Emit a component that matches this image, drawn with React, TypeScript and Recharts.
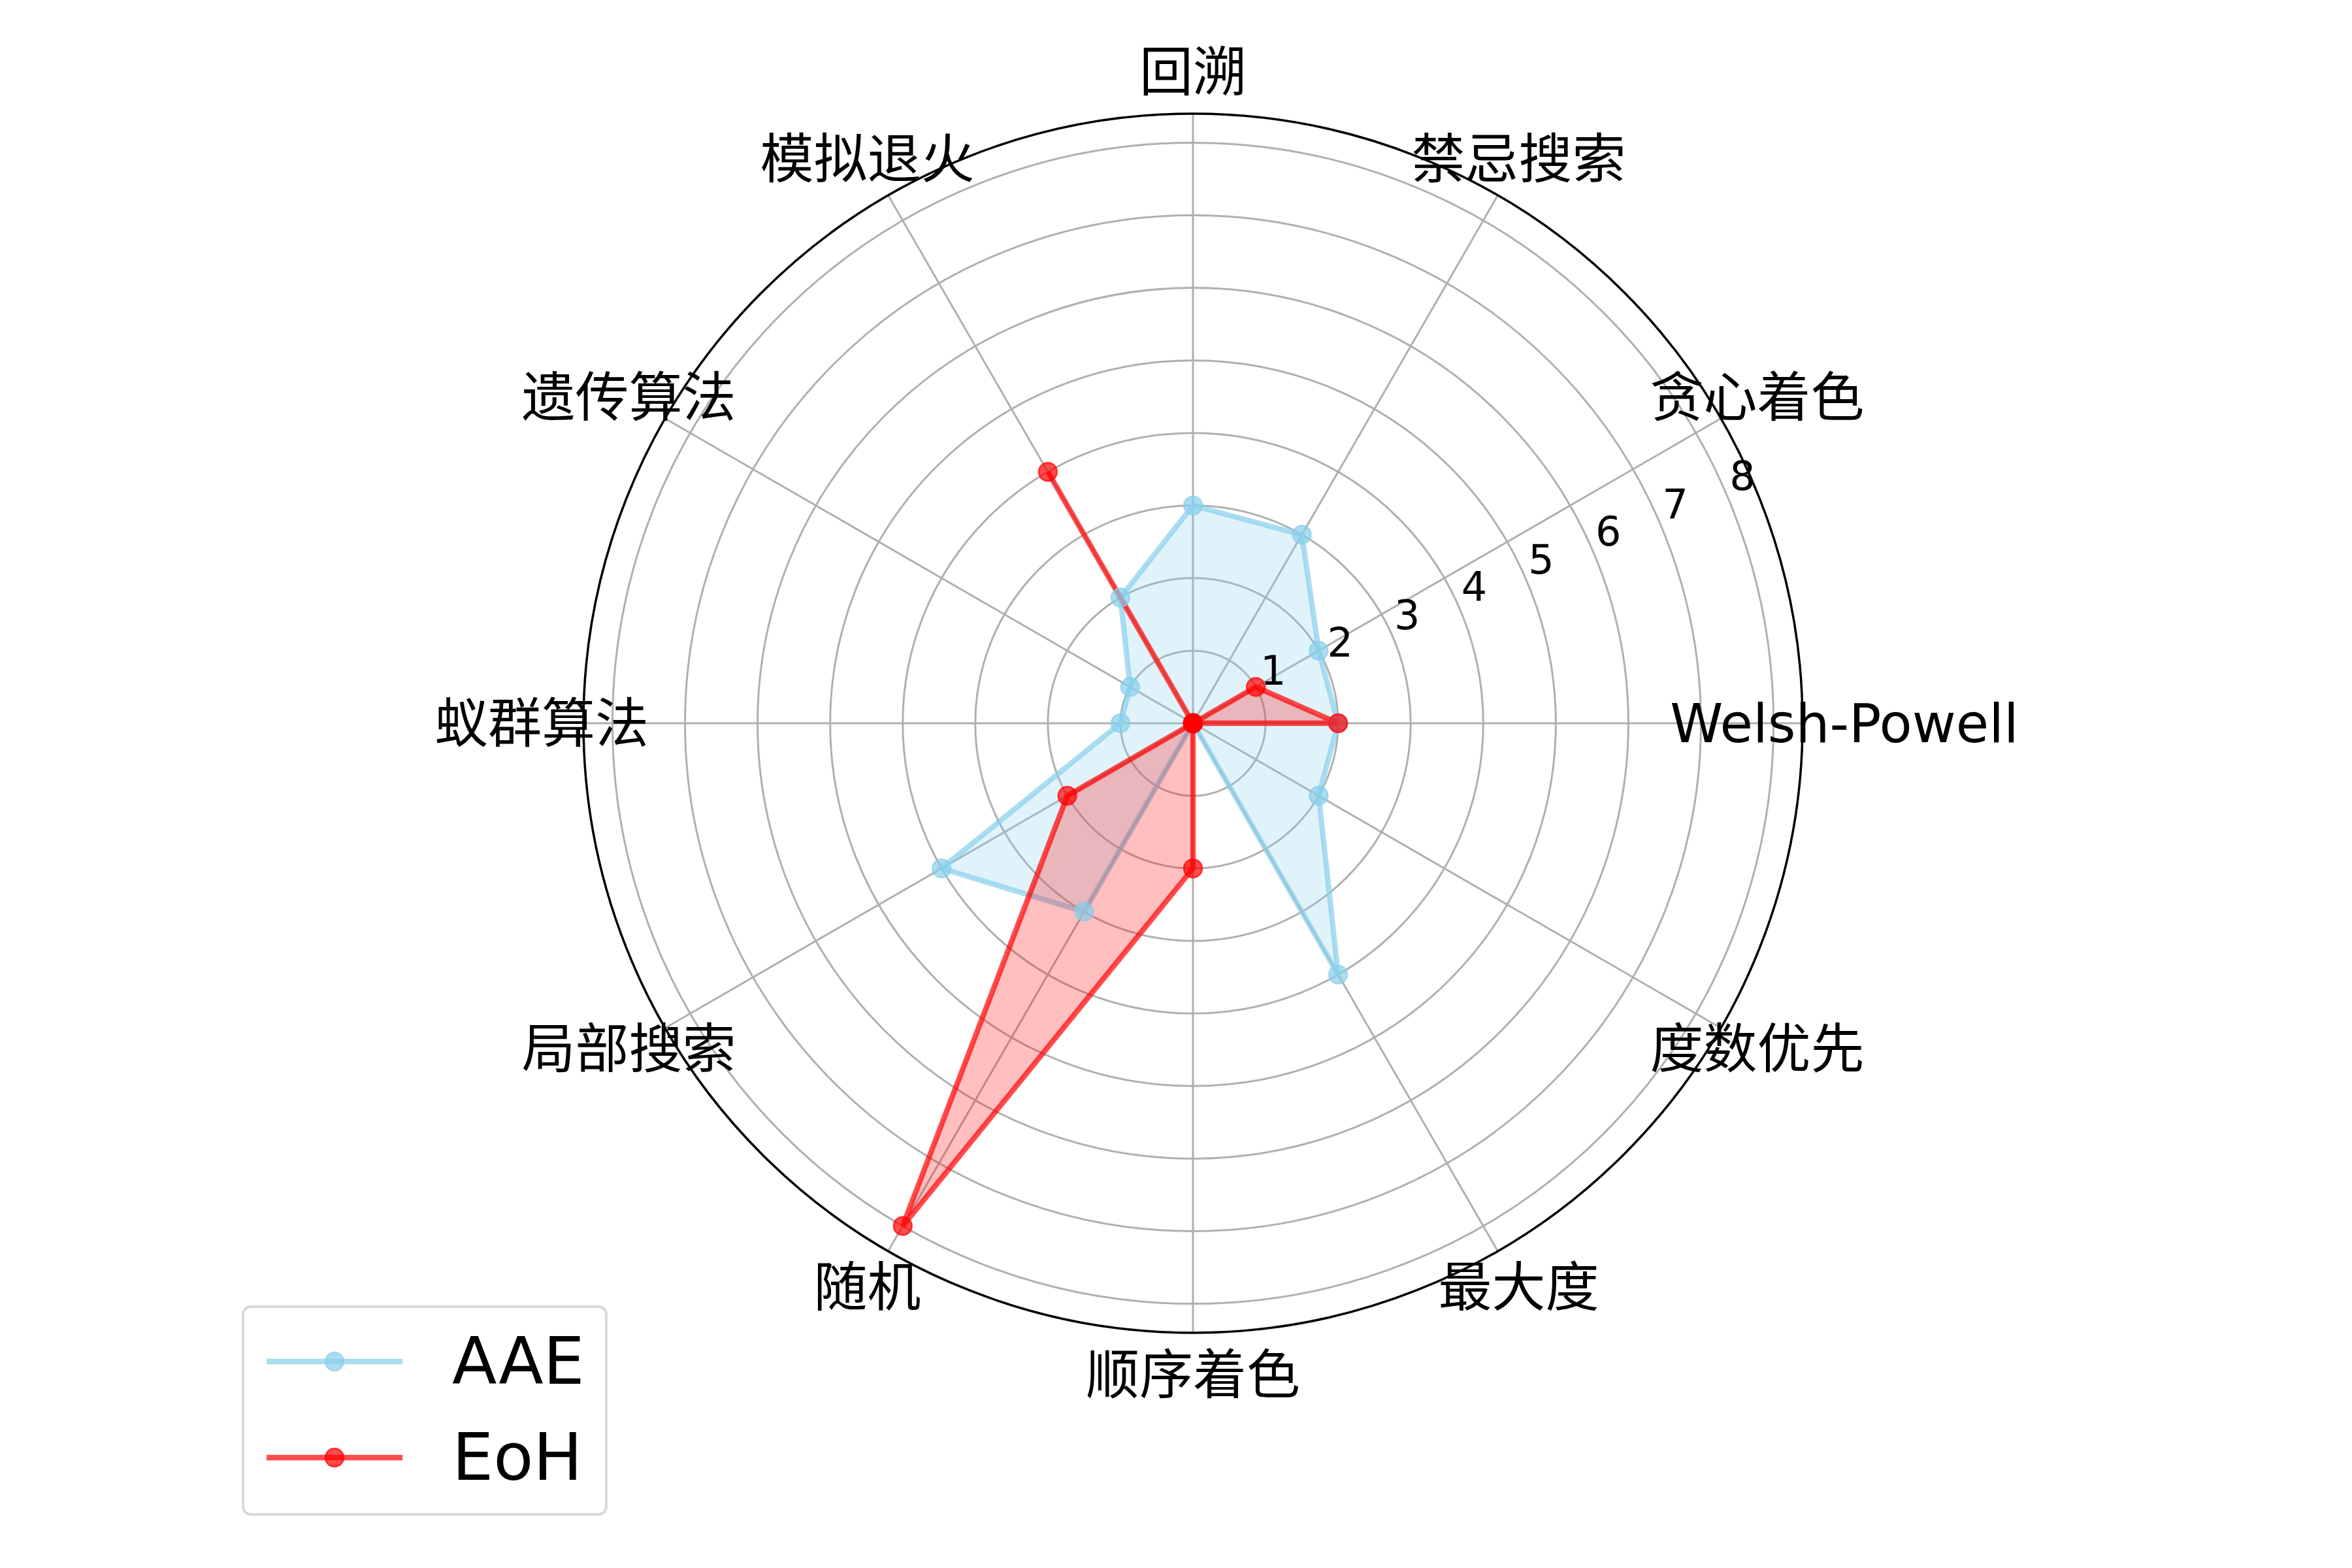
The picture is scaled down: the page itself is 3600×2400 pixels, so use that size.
import React from "react";
import {
  RadarChart,
  Radar,
  PolarGrid,
  PolarAngleAxis,
  PolarRadiusAxis,
} from "recharts";

// axis categories, counter-clockwise from 3 o'clock
const CATEGORIES = [
  "Welsh-Powell",
  "贪心着色",
  "禁忌搜索",
  "回溯",
  "模拟退火",
  "遗传算法",
  "蚁群算法",
  "局部搜索",
  "随机",
  "顺序着色",
  "最大度",
  "度数优先",
];
const AAE_VALUES = [2, 2, 3, 3, 2, 1, 1, 4, 3, 0, 4, 2];
const EOH_VALUES = [2, 1, 0, 0, 4, 0, 0, 2, 8, 2, 0, 0];
const RADIUS_TICKS = [1, 2, 3, 4, 5, 6, 7, 8];
const RADIUS_MAX = 8.4;

const SERIES = [
  { key: "AAE", color: "#87CEEB" },
  { key: "EoH", color: "#FF0000" },
];

const FONT = '"DejaVu Sans", "Noto Sans CJK SC", sans-serif';

// recharts walks the circle clockwise, so feed the rows in that order
const order = CATEGORIES.map((_, i) => (CATEGORIES.length - i) % CATEGORIES.length);
const chartData = order.map((i) => ({
  name: CATEGORIES[i],
  AAE: AAE_VALUES[i],
  EoH: EOH_VALUES[i],
}));

const AngleTick = (props: any) => {
  const { x, y, payload } = props;
  return (
    <text
      x={x}
      y={y}
      textAnchor="middle"
      dominantBaseline="central"
      fontSize={82}
      fontFamily={FONT}
      fill="#000"
    >
      {payload.value}
    </text>
  );
};

const RadiusTick = (props: any) => {
  const { x, y, payload } = props;
  return (
    <text
      x={x + 20}
      y={y - 38}
      textAnchor="middle"
      dominantBaseline="central"
      fontSize={62}
      fontFamily={FONT}
      fill="#000"
    >
      {payload.value}
    </text>
  );
};

const makeDot = (color: string) => (props: any) => {
  const { cx, cy, index } = props;
  return (
    <circle
      key={index}
      cx={cx}
      cy={cy}
      r={14}
      fill={color}
      fillOpacity={0.7}
      stroke={color}
      strokeOpacity={0.7}
      strokeWidth={2.5}
    />
  );
};

function LegendBox() {
  return (
    <div
      style={{
        position: "absolute",
        left: 370,
        top: 1998,
        width: 560,
        height: 322,
        border: "4px solid #d9d9d9",
        borderRadius: 14,
        boxSizing: "border-box",
        background: "rgba(255,255,255,0.8)",
        fontFamily: FONT,
      }}
    >
      {SERIES.map((s, i) => (
        <div
          key={s.key}
          style={{
            position: "absolute",
            left: 0,
            top: 82 + i * 147 - 60,
            height: 120,
            display: "flex",
            alignItems: "center",
          }}
        >
          <svg width={300} height={120} style={{ display: "block" }}>
            <line
              x1={34}
              x2={242}
              y1={60}
              y2={60}
              stroke={s.color}
              strokeOpacity={0.7}
              strokeWidth={8.3}
            />
            <circle
              cx={138}
              cy={60}
              r={14}
              fill={s.color}
              fillOpacity={0.7}
              stroke={s.color}
              strokeOpacity={0.7}
              strokeWidth={2.5}
            />
          </svg>
          <span
            style={{
              position: "absolute",
              left: 318,
              fontSize: 100,
              lineHeight: "120px",
              color: "#000",
              whiteSpace: "nowrap",
            }}
          >
            {s.key}
          </span>
        </div>
      ))}
    </div>
  );
}

export default function App() {
  return (
    <div
      style={{
        position: "absolute",
        left: 0,
        top: 0,
        width: 3600,
        height: 2400,
        background: "#fff",
      }}
    >
      <RadarChart
        width={3600}
        height={2400}
        data={chartData}
        cx={1826}
        cy={1107}
        outerRadius={933}
        startAngle={0}
        endAngle={-360}
        margin={{ top: 0, right: 0, bottom: 0, left: 0 }}
      >
        <PolarGrid gridType="circle" stroke="#b0b0b0" strokeWidth={3} />
        <PolarAngleAxis
          dataKey="name"
          tick={<AngleTick />}
          tickLine={false}
          tickSize={64}
          axisLineType="circle"
          axisLine={{ stroke: "#000", strokeWidth: 3.5 }}
        />
        <PolarRadiusAxis
          angle={22.5}
          domain={[0, RADIUS_MAX]}
          ticks={RADIUS_TICKS}
          type="number"
          allowDataOverflow
          axisLine={false}
          tickLine={false}
          tick={<RadiusTick />}
        />
        {SERIES.map((s) => (
          <Radar
            key={s.key}
            name={s.key}
            dataKey={s.key}
            stroke={s.color}
            strokeOpacity={0.7}
            strokeWidth={8.3}
            fill={s.color}
            fillOpacity={0.25}
            dot={makeDot(s.color)}
            isAnimationActive={false}
          />
        ))}
      </RadarChart>
      <LegendBox />
    </div>
  );
}
